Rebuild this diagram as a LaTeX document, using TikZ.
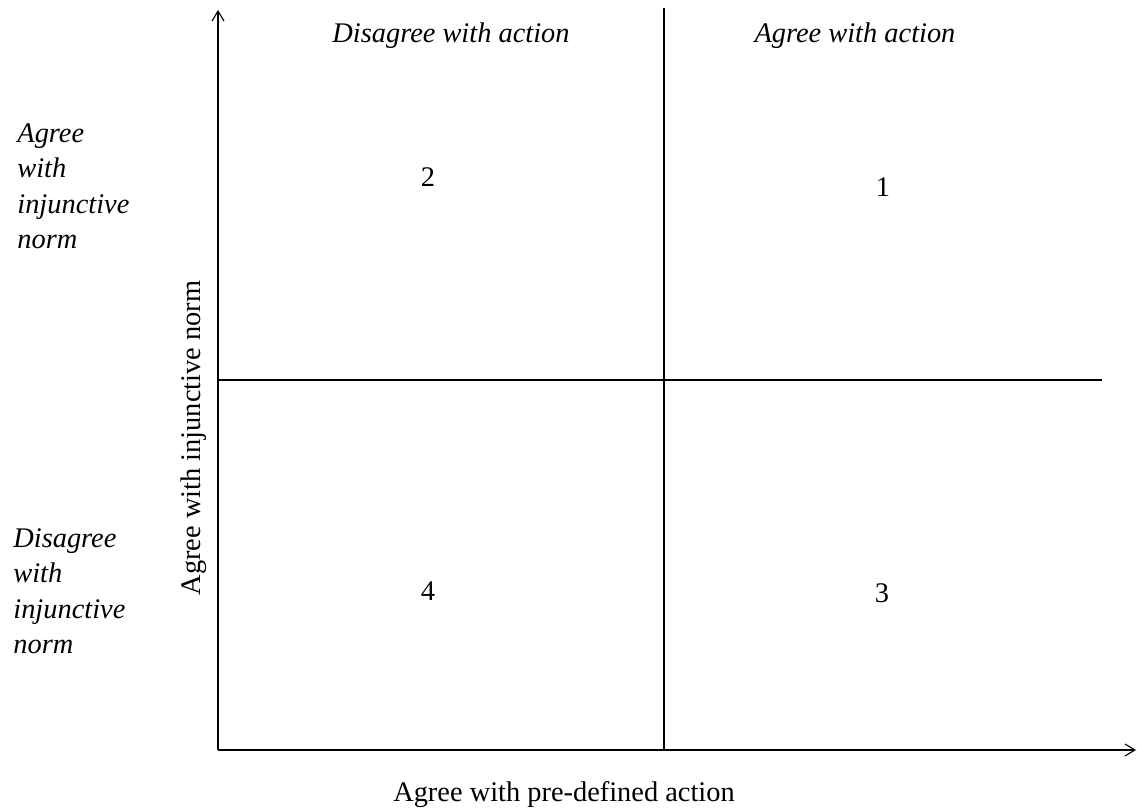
\documentclass[tikz,border=0pt]{standalone}
\usepackage{fontspec}
\setmainfont{Liberation Serif}
\usetikzlibrary{arrows.meta}

\begin{document}
\begin{tikzpicture}[x=0.5pt, y=-0.5pt,
    axis/.style={line width=0.55pt, -{Straight Barb[length=5pt, width=6pt]}},
    divider/.style={line width=0.55pt},
    num/.style={font=\fontsize{14.2}{17.5}\selectfont, anchor=base},
    label/.style={font=\fontsize{14.2}{17.5}\selectfont, anchor=base},
    head/.style={font=\fontsize{14.2}{17.5}\selectfont\itshape, anchor=base},
    side/.style={font=\fontsize{14.2}{17.75}\selectfont\itshape, align=left, anchor=north west, inner sep=0pt}]

    \useasboundingbox (0,0) rectangle (1137,812);

    % axes
    \coordinate (origin) at (218,750);
    \coordinate (ytip) at (218,10);
    \coordinate (xtip) at (1136,750);
    \draw[axis] (origin) -- (ytip);
    \draw[axis] (origin) -- (xtip);

    % quadrant dividers
    \coordinate (vtop) at (664,8);
    \coordinate (vbot) at (664,750);
    \coordinate (hleft) at (218,380);
    \coordinate (hright) at (1102,380);
    \draw[divider] (vtop) -- (vbot);
    \draw[divider] (hleft) -- (hright);

    % column and row headings
    \node[head] (disact) at (451,43) {Disagree with action};
    \node[head] (agract) at (855,43) {Agree with action};
    \node[side] (agrnorm) at (17,123) {Agree\\with\\injunctive\\norm};
    \node[side] (disnorm) at (13,528) {Disagree\\with\\injunctive\\norm};

    % quadrant numbers
    \node[num] (q2) at (428,187) {2};
    \node[num] (q1) at (883,197) {1};
    \node[num] (q4) at (428,601) {4};
    \node[num] (q3) at (882,603) {3};

    % axis titles
    \node[label, rotate=90] (ytitle) at (200,438) {Agree with injunctive norm};
    \node[label] (xtitle) at (564,802) {Agree with pre-defined action};
\end{tikzpicture}
\end{document}
